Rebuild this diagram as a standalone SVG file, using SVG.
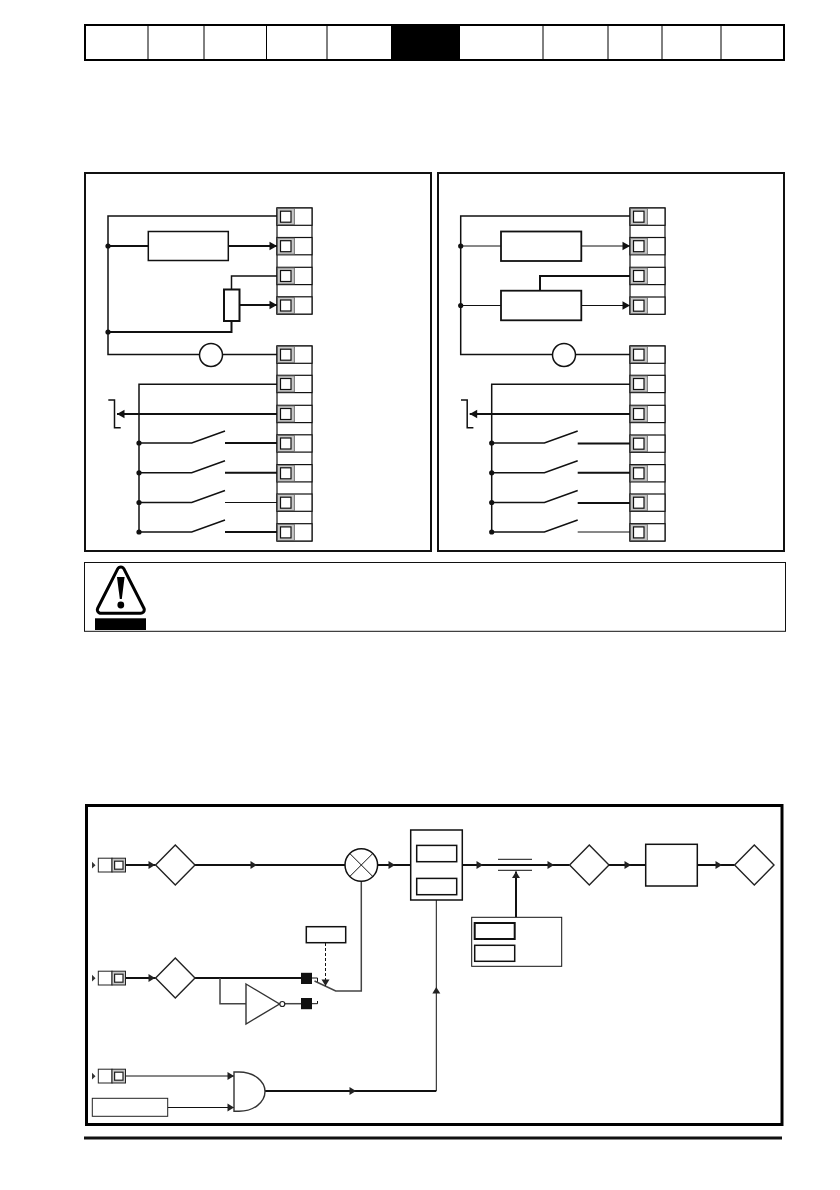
<svg xmlns="http://www.w3.org/2000/svg" width="840" height="1190" viewBox="0 0 840 1190">
<style>
.s{fill:none;stroke:#111;stroke-width:1.5;stroke-linejoin:miter}
.w{fill:#fff;stroke:#111;stroke-width:1.5}
.h{stroke-width:2}
.t{stroke-width:1}
.g{stroke:#444}
.k{fill:#111;stroke:none}
</style>
<defs>
<marker id="big" markerUnits="userSpaceOnUse" markerWidth="10" markerHeight="10" refX="8" refY="5" orient="auto"><path d="M0.500 0.800L8 5L0.500 9.200Z" fill="#111"/></marker>
<marker id="sm" markerUnits="userSpaceOnUse" markerWidth="9" markerHeight="9" refX="7" refY="4.500" orient="auto"><path d="M0.500 0.500L7 4.500L0.500 8.500Z" fill="#222"/></marker>
<g id="cell">
<rect x="0" y="0" width="35" height="17.300" fill="#fff" stroke="#111" stroke-width="1.200"/>
<rect x="0.600" y="0.600" width="16.700" height="16.100" fill="#c8c8c8" stroke="#555" stroke-width="0.800"/>
<rect x="3.500" y="3.200" width="10.500" height="11" fill="#fff" stroke="#111" stroke-width="1.200"/>
</g>
<g id="sw">
<path class="s" d="M139 0H191.700L225 -12"/>
<circle cx="139" cy="0" r="2.600" class="k"/>
</g>
<g id="inp">
<rect x="98.300" y="-6.800" width="13.700" height="13.800" fill="#fff" stroke="#222" stroke-width="1"/>
<rect x="112" y="-6.800" width="13.500" height="13.800" fill="#c8c8c8" stroke="#222" stroke-width="1"/>
<rect x="114.600" y="-3.800" width="8.400" height="8" fill="#fff" stroke="#222" stroke-width="1.200"/>
<path d="M92 -3.200L95.500 0.200L92 3.600Z" fill="#333"/>
</g>
<path id="dia" d="M-19.700 0L0 -20L19.700 0L0 20Z" fill="#fff" stroke="#222" stroke-width="1.400"/>
</defs>
<rect width="840" height="1190" fill="#fff"/>

<g id="header">
<rect x="85" y="25" width="699" height="35" fill="#fff" stroke="#000" stroke-width="2"/>
<rect x="391" y="25" width="69" height="35" fill="#000"/>
<path d="M148 25V60M204 25V60M266.500 25V60M327 25V60M543 25V60M608 25V60M662 25V60M721 25V60" fill="none" stroke="#000" stroke-width="1"/>
</g>

<g id="panel-left"><rect x="85" y="173" width="346" height="378" fill="#fff" stroke="#111" stroke-width="2"/></g>
<g id="panel-right"><rect x="438" y="173" width="346" height="378" fill="#fff" stroke="#111" stroke-width="2"/></g>

<g id="terminals-left">
<rect x="277" y="208" width="35" height="106" fill="#fff" stroke="#111" stroke-width="1.200"/>
<rect x="277" y="346" width="35" height="195" fill="#fff" stroke="#111" stroke-width="1.200"/>
<use href="#cell" x="277" y="208"/><use href="#cell" x="277" y="237.500"/><use href="#cell" x="277" y="267.300"/><use href="#cell" x="277" y="296.800"/>
<use href="#cell" x="277" y="346"/><use href="#cell" x="277" y="375.300"/><use href="#cell" x="277" y="405.300"/><use href="#cell" x="277" y="434.800"/><use href="#cell" x="277" y="464.600"/><use href="#cell" x="277" y="494"/><use href="#cell" x="277" y="523.700"/>
</g>
<g id="terminals-right">
<rect x="630" y="208" width="35" height="106" fill="#fff" stroke="#111" stroke-width="1.200"/>
<rect x="630" y="346" width="35" height="195" fill="#fff" stroke="#111" stroke-width="1.200"/>
<use href="#cell" x="630" y="208"/><use href="#cell" x="630" y="237.500"/><use href="#cell" x="630" y="267.300"/><use href="#cell" x="630" y="297"/>
<use href="#cell" x="630" y="346"/><use href="#cell" x="630" y="375.300"/><use href="#cell" x="630" y="405.300"/><use href="#cell" x="630" y="435"/><use href="#cell" x="630" y="464.600"/><use href="#cell" x="630" y="494"/><use href="#cell" x="630" y="523.700"/>
</g>

<g id="connectors">
<path class="s" d="M277 216H108V354.500H277"/>
<path class="s h" d="M108 246H148M108 332H231.500V321"/>
<path class="s h" d="M228 246H277" marker-end="url(#big)"/>
<path class="s" d="M231.500 290V276H277"/>
<path class="s h" d="M240 305H277" marker-end="url(#big)"/>
<path class="s" d="M277 384.300H139V532"/>
<path class="s h" d="M277 414H117" marker-end="url(#big)"/>
<path class="s" d="M108.300 400H114.500V427.700H120.700"/>
<use href="#sw" y="443"/><use href="#sw" y="472.800"/><use href="#sw" y="502.500"/><use href="#sw" y="532"/>
<path class="s h" d="M225 443H277M225 472.800H277M225 532H277"/>
<path class="s t" d="M225 502.500H277"/>

<path class="s" d="M630 216H460.700V354.500H630"/>
<path class="s t" d="M460.700 246H501M460.700 305.500H501"/>
<path class="s t" d="M581 246H630" marker-end="url(#big)"/>
<path class="s t" d="M581 305.500H630" marker-end="url(#big)"/>
<path class="s h" d="M540 291V276H630"/>
<g transform="translate(352.700 0)">
<path class="s" d="M277.300 384.300H139V532"/>
<path class="s h" d="M277.300 414H117" marker-end="url(#big)"/>
<path class="s" d="M108.300 400H114.500V427.700H120.700"/>
<use href="#sw" y="443"/><use href="#sw" y="472.800"/><use href="#sw" y="502.500"/><use href="#sw" y="532"/>
<path class="s h" d="M225 443.500H277.300M225 472.800H277.300M225 503H277.300"/>
<path class="s t" d="M225 532H277.300"/>
</g>
<circle cx="108" cy="246" r="2.600" class="k"/><circle cx="108" cy="332" r="2.600" class="k"/>
<circle cx="460.700" cy="246" r="2.600" class="k"/><circle cx="460.700" cy="305.500" r="2.600" class="k"/>

<polyline class="s h" points="125.500,865 155,865 155.600,865" marker-mid="url(#sm)"/>
<polyline class="s h" points="195,865 257,865 345,865" marker-mid="url(#sm)"/>
<polyline class="s h" points="377.600,865 395,865 411,865" marker-mid="url(#sm)"/>
<polyline class="s h" points="462,865 483,865 554,865 569.600,865" marker-mid="url(#sm)"/>
<polyline class="s h" points="609,865 631,865 645.700,865" marker-mid="url(#sm)"/>
<polyline class="s h" points="697.300,865 722,865 734.600,865" marker-mid="url(#sm)"/>
<path class="s t" d="M498 859.300H532M498 870.300H532"/>
<path class="s h" d="M516 917.300V871.500" marker-end="url(#sm)"/>
<polyline class="s t" points="436.300,1091 436.300,987 436.300,900" marker-mid="url(#sm)"/>
<polyline class="s h" points="125.500,978 155,978 155.600,978" marker-mid="url(#sm)"/>
<path class="s h" d="M195 978H301"/>
<path class="s g" d="M220 978V1003.700H246"/>
<path class="s g" d="M284.800 1003.700H301"/>
<path class="s t" d="M312 978H317.500V982M312 1003.700H317.500V1001"/>
<path class="s g" d="M314.500 981L335.700 991H361.300V881"/>
<path d="M325.500 943V986" fill="none" stroke="#111" stroke-width="1" stroke-dasharray="3 2" marker-end="url(#sm)"/>
<path class="s t" d="M125.500 1076H234" marker-end="url(#sm)"/>
<path class="s t" d="M167.700 1107.500H234" marker-end="url(#sm)"/>
<polyline class="s h" points="265,1091 356,1091 436.300,1091" marker-mid="url(#sm)"/>
</g>

<g id="box-left-1"><rect class="w" x="148.300" y="231.500" width="80" height="29"/></g>
<g id="pot-left"><rect class="w h" x="224" y="289.500" width="15.500" height="31.500"/></g>
<g id="meter-left"><circle class="w" cx="211" cy="355" r="11.500"/></g>
<g id="box-right-1"><rect class="w" x="501" y="231.500" width="80.300" height="29.500" stroke-width="1.800" style="stroke-width:1.800"/></g>
<g id="box-right-2"><rect class="w" x="501" y="290.700" width="80.300" height="29.600" style="stroke-width:1.800"/></g>
<g id="meter-right"><circle class="w" cx="564" cy="355" r="11.500"/></g>

<g id="warning">
<rect x="84.500" y="562.500" width="701" height="68.800" fill="#fff" stroke="#111" stroke-width="1"/>
<path d="M120.800 570.500L100.800 609.800H140.800Z" fill="#000" stroke="#000" stroke-width="10" stroke-linejoin="round"/>
<path d="M120.800 570.500L100.800 609.800H140.800Z" fill="#fff" stroke="#fff" stroke-width="4" stroke-linejoin="round"/>
<path d="M117 577H124.600L121.800 599H119.800Z" fill="#000"/>
<circle cx="120.800" cy="605" r="3.400" fill="#000"/>
<rect x="95" y="618.300" width="51" height="11.700" fill="#000"/>
</g>

<g id="input-1"><use href="#inp" y="865"/></g>
<g id="input-2"><use href="#inp" y="978"/></g>
<g id="input-3"><use href="#inp" y="1076"/></g>
<g id="diamond-1"><use href="#dia" x="175.300" y="865"/></g>
<g id="diamond-2"><use href="#dia" x="175.300" y="978"/></g>
<g id="diamond-3"><use href="#dia" x="589.300" y="865"/></g>
<g id="diamond-4"><use href="#dia" x="754.300" y="865"/></g>
<g id="multiplier">
<circle class="w" cx="361.300" cy="865" r="16.300"/>
<path class="s t" d="M349.800 853.500L372.800 876.500M372.800 853.500L349.800 876.500"/>
</g>
<g id="ramp-box">
<rect class="w" x="410.700" y="830" width="51.600" height="70"/>
<rect class="w" x="416.700" y="845.400" width="40" height="16.300"/>
<rect class="w" x="416.700" y="878.400" width="40" height="16.300"/>
</g>
<g id="gain-box"><rect class="w" x="645.700" y="844.300" width="51.600" height="41.700"/></g>
<g id="limit-box">
<rect class="w t" x="471.700" y="917.300" width="90" height="49"/>
<rect class="w h" x="474.700" y="923" width="40" height="16"/>
<rect class="w" x="474.700" y="945.300" width="40" height="16"/>
</g>
<g id="select-box"><rect class="w" x="306.300" y="926.700" width="39.400" height="16"/></g>
<g id="switch-contact-a"><rect class="k" x="301" y="972.800" width="11" height="11.200"/></g>
<g id="switch-contact-b"><rect class="k" x="301" y="998" width="11" height="11.200"/></g>
<g id="inverter">
<path d="M246 984L279.500 1004L246 1024Z" fill="#fff" stroke="#333" stroke-width="1.400"/>
<circle cx="282.300" cy="1004" r="2.500" fill="#fff" stroke="#222" stroke-width="1.200"/>
</g>
<g id="and-gate"><path d="M234 1072H239C254 1072 265 1081 265 1091.600C265 1102 254 1111.300 239 1111.300H234Z" fill="#fff" stroke="#333" stroke-width="1.400"/></g>
<g id="enable-box"><rect x="92.300" y="1098.300" width="75.400" height="18" fill="#fff" stroke="#222" stroke-width="1"/></g>

<rect id="frame" x="86.500" y="805.500" width="695.500" height="319" fill="none" stroke="#000" stroke-width="3"/>
<path id="footer-rule" d="M84 1138H782" stroke="#111" stroke-width="3" fill="none"/>
</svg>
